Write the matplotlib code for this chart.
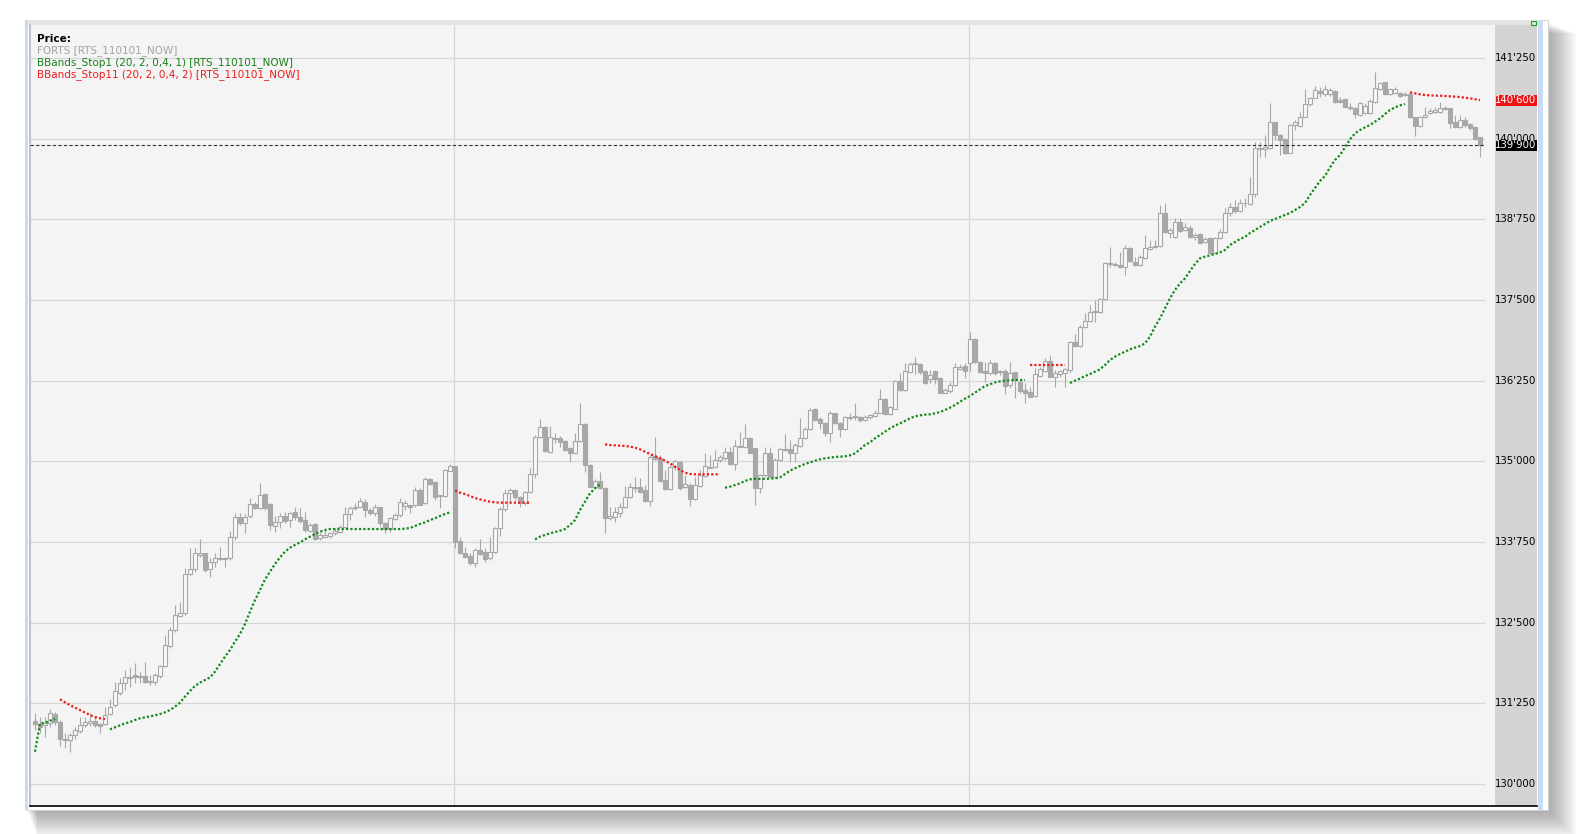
import numpy as np
import matplotlib
matplotlib.use("Agg")
import matplotlib.pyplot as plt
from matplotlib.patches import Rectangle
from matplotlib.lines import Line2D

W, H = 1577, 834

# --- candles (RTS futures, 290 bars, three sessions) ---
opens = [
    130980, 130930, 130915, 130950, 131080, 130955, 130705, 130680, 130755, 130820,
    130910, 130940, 130980, 130930, 130925, 131080, 131220, 131405, 131560, 131665,
    131690, 131675, 131675, 131585, 131585, 131680, 131835, 132145, 132385, 132610,
    132645, 133250, 133325, 133550, 133575, 133325, 133435, 133485, 133500, 133500,
    133835, 134135, 134040, 134155, 134335, 134275, 134490, 134335, 134005, 134055,
    134155, 134090, 134220, 134145, 134090, 133925, 134030, 133810, 133835, 133850,
    133885, 133900, 133990, 134180, 134275, 134300, 134365, 134245, 134195, 134290,
    134040, 133945, 134100, 134170, 134310, 134320, 134320, 134555, 134350, 134735,
    134680, 134465, 134470, 134855, 134930, 133765, 133585, 133535, 133420, 133625,
    133590, 133500, 133590, 133965, 134255, 134505, 134555, 134445, 134350, 134530,
    134805, 135375, 135530, 135150, 135355, 135360, 135315, 135205, 135125, 135320,
    135580, 134945, 134610, 134690, 134590, 134120, 134145, 134205, 134290, 134445,
    134610, 134600, 134555, 134390, 135085, 135050, 134710, 134565, 134910, 134995,
    134610, 134635, 134425, 134625, 134775, 134905, 134910, 135020, 135050, 135150,
    134960, 135230, 135220, 135360, 135205, 134585, 134790, 135135, 134765, 135020,
    135175, 135185, 135135, 135245, 135360, 135495, 135805, 135650, 135600, 135435,
    135745, 135600, 135495, 135680, 135695, 135695, 135640, 135685, 135705, 135755,
    135960, 135735, 135820, 136245, 136105, 136390, 136505, 136510, 136400, 136270,
    136405, 136290, 136065, 136085, 136180, 136440, 136480, 136520, 136890, 136545,
    136405, 136365, 136520, 136390, 136400, 136185, 136380, 136235, 136105, 136080,
    136015, 136325, 136405, 136560, 136315, 136350, 136365, 136415, 136855, 136795,
    137080, 137175, 137315, 137320, 137510, 138060, 138050, 138045, 138020, 138305,
    138095, 138045, 138150, 138295, 138320, 138345, 138845, 138545, 138475, 138705,
    138585, 138615, 138475, 138520, 138405, 138460, 138235, 138460, 138560, 138855,
    138950, 138880, 139000, 138990, 139150, 139855, 139835, 139855, 140255, 140060,
    139990, 139785, 140215, 140205, 140345, 140535, 140640, 140745, 140690, 140690,
    140740, 140600, 140615, 140490, 140485, 140370, 140395, 140395, 140575, 140765,
    140875, 140690, 140705, 140715, 140695, 140690, 140335, 140205, 140335, 140395,
    140420, 140410, 140475, 140475, 140265, 140190, 140290, 140225, 140190, 140025,
]
highs = [
    131105, 131045, 131045, 131155, 131120, 130990, 130785, 130785, 130890, 131035,
    131045, 131095, 131045, 130940, 131190, 131310, 131585, 131640, 131765, 131820,
    131870, 131740, 131895, 131690, 131725, 131845, 132310, 132440, 132775, 132825,
    133345, 133665, 133655, 133790, 133585, 133500, 133575, 133670, 133525, 133920,
    134195, 134205, 134185, 134430, 134375, 134670, 134505, 134350, 134155, 134195,
    134220, 134220, 134300, 134275, 134220, 134040, 134050, 133910, 133935, 133910,
    133965, 134015, 134290, 134310, 134350, 134430, 134410, 134275, 134340, 134300,
    134065, 134145, 134205, 134430, 134400, 134330, 134600, 134585, 134755, 134745,
    134690, 134485, 134875, 134960, 134935, 133835, 133680, 133575, 133655, 133790,
    133655, 133825, 133990, 134300, 134565, 134585, 134565, 134465, 134545, 134895,
    135410, 135650, 135550, 135550, 135445, 135395, 135330, 135220, 135435, 135910,
    135590, 134960, 134720, 134840, 134600, 134300, 134300, 134350, 134620, 134660,
    134765, 134740, 134635, 135100, 135375, 135100, 134865, 134930, 135020, 135010,
    134790, 134660, 134765, 134865, 135135, 135100, 135175, 135100, 135230, 135230,
    135330, 135460, 135580, 135385, 135215, 134805, 135220, 135230, 135050, 135205,
    135420, 135330, 135280, 135670, 135530, 135825, 135825, 135695, 135610, 135785,
    135755, 135615, 135705, 135745, 135910, 135705, 135720, 135735, 135795, 136115,
    135980, 135860, 136260, 136365, 136530, 136545, 136615, 136530, 136415, 136415,
    136415, 136305, 136135, 136235, 136530, 136510, 136530, 137010, 136910, 136560,
    136545, 136570, 136545, 136415, 136425, 136545, 136390, 136270, 136210, 136160,
    136445, 136470, 136600, 136650, 136415, 136415, 136445, 136870, 136975, 137115,
    137305, 137425, 137500, 137530, 138095, 138320, 138095, 138250, 138355, 138330,
    138175, 138200, 138510, 138430, 138430, 138975, 139010, 138615, 138770, 138770,
    138690, 138665, 138535, 138535, 138485, 138475, 138485, 138595, 138925, 139000,
    139050, 139060, 139080, 139410, 139955, 139955, 140060, 140550, 140265, 140075,
    140010, 140230, 140290, 140420, 140765, 140655, 140820, 140810, 140835, 140785,
    140755, 140645, 140630, 140550, 140500, 140575, 140560, 140610, 141040, 140885,
    140885, 140785, 140810, 140730, 140730, 140705, 140345, 140355, 140500, 140475,
    140490, 140575, 140510, 140485, 140370, 140370, 140345, 140240, 140200, 140035,
]
lows = [
    130835, 130785, 130735, 130890, 130915, 130590, 130555, 130500, 130690, 130785,
    130880, 130900, 130890, 130785, 130915, 131070, 131200, 131380, 131455, 131510,
    131560, 131560, 131560, 131535, 131535, 131640, 131820, 132105, 132360, 132595,
    132620, 133240, 133290, 133525, 133290, 133215, 133370, 133470, 133370, 133470,
    133780, 134015, 133895, 134120, 134255, 134255, 134245, 133935, 133910, 133965,
    134040, 133990, 134090, 134040, 133910, 133910, 133780, 133780, 133810, 133810,
    133860, 133885, 133965, 134090, 134245, 134290, 134145, 134170, 134155, 133990,
    133885, 133910, 134090, 134145, 134245, 134195, 134300, 134325, 134340, 134635,
    134400, 134275, 134455, 134845, 133655, 133565, 133515, 133395, 133370, 133550,
    133445, 133470, 133575, 133845, 134235, 134350, 134400, 134300, 134325, 134515,
    134740, 135360, 135150, 135135, 135280, 135230, 135165, 134995, 135115, 135305,
    134840, 134600, 134585, 134580, 133895, 134090, 134065, 134145, 134275, 134430,
    134530, 134505, 134375, 134310, 135020, 134685, 134555, 134555, 134865, 134555,
    134585, 134310, 134400, 134610, 134755, 134895, 134895, 134995, 135020, 134950,
    134865, 135220, 135205, 135125, 134325, 134505, 134765, 134755, 134755, 135010,
    135165, 134995, 134995, 135230, 135340, 135485, 135630, 135495, 135395, 135305,
    135580, 135385, 135485, 135640, 135640, 135615, 135630, 135665, 135685, 135745,
    135720, 135720, 135805, 136095, 136090, 136375, 136355, 136355, 136200, 136210,
    136200, 136055, 136055, 136065, 136170, 136415, 136290, 136405, 136530, 136365,
    136235, 136340, 136340, 136340, 136045, 136135, 135980, 136055, 135900, 135995,
    136005, 136315, 136390, 136305, 136160, 136305, 136160, 136390, 136780, 136780,
    137065, 137165, 137165, 137305, 137500, 138020, 138030, 138005, 137890, 138095,
    138030, 138030, 138130, 138275, 138305, 138330, 138545, 138460, 138460, 138560,
    138575, 138460, 138430, 138370, 138380, 138215, 138225, 138440, 138545, 138800,
    138850, 138860, 138950, 138970, 139100, 139725, 139725, 139835, 139980, 139750,
    139765, 139775, 140135, 140190, 140335, 140510, 140630, 140645, 140665, 140665,
    140560, 140550, 140490, 140445, 140320, 140355, 140380, 140385, 140560, 140755,
    140680, 140680, 140690, 140655, 140665, 140320, 140045, 140190, 140320, 140380,
    140405, 140395, 140445, 140165, 140175, 140165, 140190, 140135, 139980, 139725,
]
closes = [
    130930, 130880, 130950, 131095, 130955, 130690, 130680, 130760, 130835, 130910,
    130955, 130980, 130920, 130905, 131070, 131200, 131440, 131560, 131655, 131640,
    131665, 131655, 131585, 131600, 131690, 131835, 132155, 132385, 132620, 132645,
    133250, 133325, 133575, 133575, 133315, 133445, 133500, 133500, 133485, 133835,
    134135, 134040, 134135, 134335, 134275, 134480, 134275, 134015, 134055, 134155,
    134080, 134195, 134135, 134080, 133935, 134015, 133790, 133860, 133860, 133895,
    133920, 133990, 134180, 134275, 134300, 134385, 134245, 134195, 134300, 134040,
    133945, 134120, 134170, 134365, 134350, 134300, 134555, 134330, 134720, 134650,
    134455, 134480, 134860, 134930, 133755, 133585, 133525, 133420, 133625, 133565,
    133495, 133600, 133965, 134255, 134505, 134555, 134445, 134350, 134530, 134805,
    135375, 135530, 135165, 135385, 135365, 135305, 135175, 135125, 135320, 135580,
    134950, 134610, 134690, 134590, 134120, 134155, 134220, 134300, 134455, 134610,
    134595, 134530, 134390, 135075, 135030, 134700, 134565, 134910, 135005, 134585,
    134650, 134425, 134635, 134790, 134930, 134920, 135020, 135065, 135150, 134960,
    135240, 135240, 135360, 135135, 134595, 134790, 135135, 134765, 135020, 135185,
    135185, 135135, 135250, 135360, 135495, 135795, 135640, 135600, 135435, 135755,
    135600, 135495, 135685, 135695, 135690, 135640, 135695, 135720, 135755, 135960,
    135735, 135840, 136245, 136105, 136405, 136510, 136520, 136390, 136210, 136340,
    136270, 136065, 136105, 136180, 136460, 136470, 136405, 136890, 136545, 136390,
    136365, 136520, 136365, 136385, 136170, 136375, 136260, 136095, 136065, 136005,
    136350, 136425, 136560, 136315, 136375, 136400, 136425, 136855, 136795, 137080,
    137175, 137310, 137325, 137510, 138070, 138065, 138060, 138020, 138305, 138110,
    138045, 138165, 138305, 138320, 138345, 138845, 138560, 138585, 138705, 138575,
    138630, 138475, 138510, 138390, 138440, 138225, 138460, 138560, 138855, 138950,
    138880, 139000, 139010, 139150, 139855, 139840, 139870, 140255, 140060, 139980,
    139785, 140215, 140255, 140335, 140535, 140630, 140755, 140705, 140765, 140755,
    140575, 140575, 140500, 140480, 140380, 140560, 140515, 140590, 140785, 140860,
    140690, 140765, 140765, 140670, 140685, 140335, 140205, 140335, 140370, 140435,
    140445, 140485, 140470, 140250, 140190, 140290, 140215, 140175, 139990, 139900,
]

# first bar of the 2nd and 3rd session
session_starts = [85, 188]

# BBands_Stop1 (green) and BBands_Stop11 (red): (first bar, values)
stop1_segments = [
    (1, [130500, 130940, 130950, 130980, 131010]),
    (16, [130847, 130878, 130909, 130940, 130961, 130992, 131018, 131033, 131049, 131064,
          131085, 131111, 131147, 131199, 131261, 131354, 131441, 131519, 131571, 131612,
          131653, 131741, 131860, 131974, 132077, 132206, 132325, 132480, 132671, 132852,
          133007, 133172, 133291, 133410, 133513, 133601, 133663, 133705, 133746, 133792,
          133834, 133875, 133911, 133937, 133952, 133952, 133952, 133952, 133952, 133952,
          133952, 133952, 133952, 133952, 133952, 133952, 133952, 133952, 133952, 133958,
          133968, 133999, 134030, 134056, 134092, 134118, 134154, 134185, 134211]),
    (101, [133792, 133834, 133860, 133885, 133906, 133927, 133952, 134015, 134092, 134247,
           134376, 134505, 134583, 134645]),
    (139, [134593, 134609, 134634, 134660, 134697, 134722, 134728, 134728, 134728, 134733,
           134738, 134753, 134805, 134857, 134893, 134929, 134960, 134986, 135012, 135032,
           135048, 135058, 135069, 135074, 135079, 135094, 135125, 135187, 135254, 135296,
           135358, 135409, 135461, 135513, 135554, 135590, 135627, 135668, 135699, 135714,
           135725, 135730, 135745, 135766, 135797, 135833, 135875, 135926, 135973, 136014,
           136066, 136117, 136169, 136195, 136226, 136241, 136252, 136257, 136262, 136262,
           136262]),
    (208, [136216, 136252, 136283, 136324, 136355, 136391, 136427, 136495, 136572, 136624,
           136665, 136701, 136737, 136763, 136789, 136830, 136934, 137089, 137218, 137373,
           137528, 137657, 137760, 137838, 137951, 138060, 138148, 138174, 138194, 138215,
           138241, 138277, 138355, 138401, 138448, 138479, 138541, 138587, 138634, 138680,
           138727, 138758, 138789, 138820, 138851, 138897, 138944, 139006, 139130, 139238,
           139347, 139424, 139558, 139672, 139749, 139868, 139992, 140085, 140137, 140178,
           140214, 140266, 140318, 140385, 140447, 140488, 140519, 140540]),
]
stop11_segments = [
    (6, [131312, 131266, 131224, 131183, 131147, 131106, 131070, 131038, 131018, 131007]),
    (85, [134547, 134516, 134495, 134464, 134433, 134412, 134392, 134376, 134366, 134361,
          134361, 134361, 134361, 134361, 134361, 134361]),
    (115, [135265, 135254, 135249, 135244, 135239, 135229, 135213, 135187, 135151, 135115,
           135084, 135048, 135012, 134970, 134919, 134867, 134826, 134805, 134800, 134800,
           134800, 134800, 134800, 134800]),
    (200, [136495, 136495, 136495, 136495, 136495, 136495, 136495, 136495]),
    (276, [140721, 140705, 140690, 140680, 140674, 140669, 140669, 140664, 140659, 140654,
           140648, 140638, 140628, 140615, 140600]),
]

y_ticks = [130000 + 1250 * k for k in range(10)]
last_price = 139900
last_stop = 140600

legend_lines = [
    ("Price:", "black", "bold"),
    ("FORTS [RTS_110101_NOW]", "#a3a3a3", "normal"),
    ("BBands_Stop1 (20, 2, 0,4, 1) [RTS_110101_NOW]", "#1c7f1c", "normal"),
    ("BBands_Stop11 (20, 2, 0,4, 2) [RTS_110101_NOW]", "#ee1c1c", "normal"),
]

GREEN = "#13891a"
RED = "#ee1b1b"
CANDLE = "#a8a8a8"


def fmt(v):
    return f"{v:,.0f}".replace(",", "'")


fig = plt.figure(figsize=(W / 100, H / 100), dpi=100)
fig.patch.set_facecolor("white")


def px_rect(x, y, w, h, **kw):
    kw.setdefault("zorder", -5)
    return Rectangle((x / W, 1 - (y + h) / H), w / W, h / H,
                     transform=fig.transFigure, **kw)


# window shadow + frame (drawn behind the axes)
for k in range(1, 20):
    fig.patches.append(px_rect(26 + k * 0.6, 22 + k * 0.6, 1520 + k, 786 + k,
                               fc="black", ec="none", alpha=0.018))
fig.patches.append(px_rect(26, 20, 1522, 790, fc="white", ec="#cfcfcf", lw=0.6))
fig.patches.append(px_rect(25, 20, 3, 790, fc="#c9dbf1", ec="none"))
fig.patches.append(px_rect(1538, 20, 5, 790, fc="#c9dbf1", ec="none"))
fig.patches.append(px_rect(28, 20, 1510, 5, fc="#e4e4e4", ec="none"))
fig.patches.append(px_rect(1531, 21, 5, 4, fc="none", ec="#22a022", lw=0.8, zorder=5))

# main price axes
L, R, T, B = 30, 1495, 25, 806
ax = fig.add_axes([L / W, 1 - B / H, (R - L) / W, (B - T) / H])
ax.set_facecolor("#f4f4f4")
ax.set_xlim(0, 293)
ax.set_ylim(130000 + (784 - 806) * 15.5, 130000 + (784 - 25) * 15.5)
ax.set_xticks([])
ax.set_yticks([])
for s in ["top", "right", "bottom"]:
    ax.spines[s].set_visible(False)
ax.spines["left"].set_color("#b8b8b8")
ax.spines["left"].set_linewidth(1.2)

grid_end = (1484 - L) / (R - L)
for v in y_ticks:
    ax.axhline(v, xmin=0, xmax=grid_end, color="#d6d6d6", lw=0.9, zorder=1)
for s in session_starts:
    ax.axvline(s - 0.3, color="#d6d6d6", lw=0.9, zorder=1)

x = np.arange(1, len(closes) + 1)
o = np.array(opens)
h = np.array(highs)
lo = np.array(lows)
c = np.array(closes)

ax.vlines(x, lo, h, color=CANDLE, lw=0.8, zorder=2)
up = c >= o
body_bottom = np.minimum(o, c)
body_height = np.maximum(np.abs(c - o), 10)
ax.bar(x[up], body_height[up], bottom=body_bottom[up], width=0.7,
       facecolor="#f8f8f8", edgecolor=CANDLE, linewidth=0.8, zorder=3)
ax.bar(x[~up], body_height[~up], bottom=body_bottom[~up], width=0.7,
       facecolor=CANDLE, edgecolor=CANDLE, linewidth=0.8, zorder=3)

dots = (0, (1, 0.95))
for start, vals in stop1_segments:
    xs = np.arange(start, start + len(vals))
    ax.plot(xs, vals, color=GREEN, lw=1.6, linestyle=dots,
            dash_capstyle="butt", zorder=4)
for start, vals in stop11_segments:
    xs = np.arange(start, start + len(vals))
    ax.plot(xs, vals, color=RED, lw=1.6, linestyle=dots,
            dash_capstyle="butt", zorder=4)

ax.axhline(last_price, xmin=0, xmax=grid_end, color="#333333", lw=0.8,
           linestyle=(0, (3, 2)), zorder=5)

# price scale panel
axp = fig.add_axes([R / W, 1 - B / H, 42 / W, (B - T) / H])
axp.set_facecolor("#d4d4d4")
axp.set_ylim(ax.get_ylim())
axp.set_xlim(0, 1)
axp.set_xticks([])
axp.set_yticks([])
for s in axp.spines.values():
    s.set_visible(False)
tr = axp.get_yaxis_transform()
for v in y_ticks:
    axp.text(0.98, v, fmt(v), transform=tr, ha="right", va="center",
             fontsize=7.3, color="black")
box_h = 11 * 15.5
axp.add_patch(Rectangle((0.02, last_stop - box_h / 2), 0.98, box_h,
                        transform=tr, fc="#f01414", ec="none", zorder=3))
axp.text(0.98, last_stop, fmt(last_stop), transform=tr, ha="right", va="center",
         fontsize=7.3, color="white", zorder=4)
axp.add_patch(Rectangle((0.02, last_price - box_h / 2), 0.98, box_h,
                        transform=tr, fc="black", ec="none", zorder=3))
axp.text(0.98, last_price, fmt(last_price), transform=tr, ha="right", va="center",
         fontsize=7.3, color="white", zorder=4)

# bottom border line
fig.lines.append(Line2D([30 / W, 1537 / W], [1 - 806 / H, 1 - 806 / H],
                        transform=fig.transFigure, color="black", lw=1.2))

# legend block
for k, (txt, col, wt) in enumerate(legend_lines):
    fig.text(37 / W, 1 - (39 + 12 * k) / H, txt, color=col, fontsize=7.5,
             fontweight=wt, va="center", ha="left")

fig.savefig("out.png", dpi=100, facecolor=fig.get_facecolor())
